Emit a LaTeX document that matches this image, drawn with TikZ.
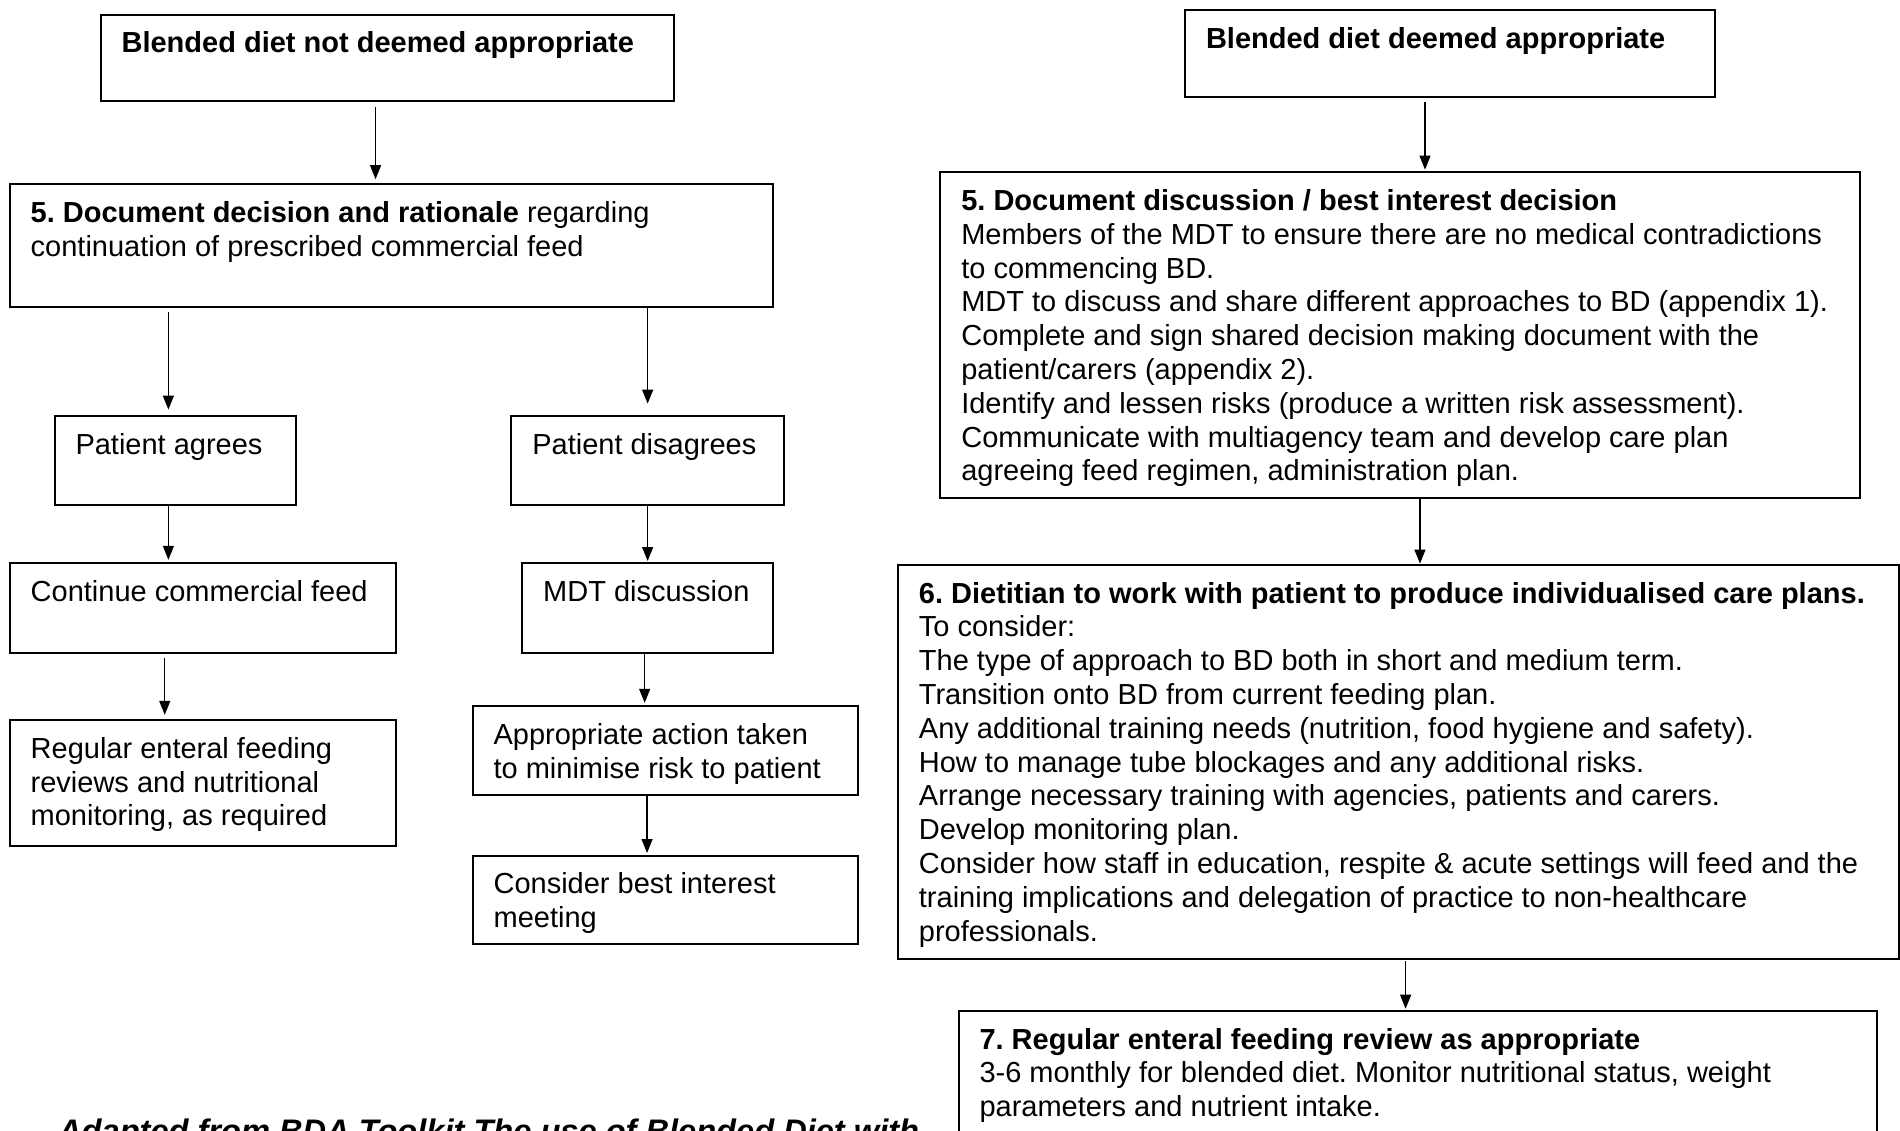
\documentclass[tikz,border=0pt]{standalone}
\usepackage{fontspec}
\setmainfont{Liberation Sans}
\usepackage{tikz}
\usetikzlibrary{arrows.meta,positioning}
\frenchspacing

\newcommand{\boxtext}[3]{\parbox[t][#2pt][t]{#1pt}{\raggedright\leftskip=21pt\vspace*{14.8pt}\strut #3}}

\begin{document}
\begin{tikzpicture}[
        x=1pt, y=-1pt,
        font=\fontsize{29}{33.8}\selectfont,
        box/.style={rectangle,draw,line width=2pt,anchor=north west,inner sep=0pt,outer sep=0pt},
        arrow/.style={-{Triangle[length=14pt,width=11pt]},line width=1.3pt}
    ]
        \useasboundingbox (0,0) rectangle (1900,1130);

        \node[box] (notok) at (100.6,14.5) {\boxtext{573.1}{86.1}{\textbf{Blended diet not deemed appropriate}}};
        \node[box] (decision) at (9.7,184.2) {\boxtext{763.4}{122.4}{\textbf{5. Document decision and rationale} regarding\\continuation of prescribed commercial feed}};
        \node[box] (agrees) at (54.5,415.6) {\boxtext{241.2}{89.7}{Patient agrees}};
        \node[box] (disagrees) at (511.3,415.6) {\boxtext{272.7}{89.7}{Patient disagrees}};
        \node[box] (continue) at (9.7,563.4) {\boxtext{386.5}{89.7}{Continue commercial feed}};
        \node[box] (mdt) at (522.2,563.4) {\boxtext{250.9}{89.7}{MDT discussion}};
        \node[box] (review) at (9.7,719.8) {\boxtext{386.5}{126}{Regular enteral feeding\\reviews and nutritional\\monitoring, as required}};
        \node[box] (action) at (472.6,706.4) {\boxtext{385.3}{88.5}{Appropriate action taken\\to minimise risk to patient}};
        \node[box] (meeting) at (472.6,855.5) {\boxtext{385.3}{88.4}{Consider best interest\\meeting}};

        \node[box] (ok) at (1185,9.7) {\boxtext{529.6}{87.2}{\textbf{Blended diet deemed appropriate}}};
        \node[box] (discuss) at (940.3,172.1) {\boxtext{919.7}{325.9}{\textbf{5. Document discussion / best interest decision}\\
            Members of the MDT to ensure there are no medical contradictions\\
            to commencing BD.\\
            MDT to discuss and share different approaches to BD (appendix 1).\\
            Complete and sign shared decision making document with the\\
            patient/carers (appendix 2).\\
            Identify and lessen risks (produce a written risk assessment).\\
            Communicate with multiagency team and develop care plan\\
            agreeing feed regimen, administration plan.}};
        \node[box] (dietitian) at (897.9,564.6) {\boxtext{1000.8}{393.9}{\textbf{6. Dietitian to work with patient to produce individualised care plans.}\\
            To consider:\\
            The type of approach to BD both in short and medium term.\\
            Transition onto BD from current feeding plan.\\
            Any additional training needs (nutrition, food hygiene and safety).\\
            How to manage tube blockages and any additional risks.\\
            Arrange necessary training with agencies, patients and carers.\\
            Develop monitoring plan.\\
            Consider how staff in education, respite \& acute settings will feed and the\\
            training implications and delegation of practice to non-healthcare\\
            professionals.}};
        \node[box] (regular) at (958.5,1010.7) {\boxtext{918.2}{250}{\textbf{7. Regular enteral feeding review as appropriate}\\
            3-6 monthly for blended diet. Monitor nutritional status, weight\\
            parameters and nutrient intake.}};

        \node[anchor=base west,inner sep=0pt,font=\fontsize{32.6}{38}\selectfont\bfseries\itshape] (credit) at (58,1142) {Adapted from BDA Toolkit The use of Blended Diet with};

        \draw[arrow] ([xshift=-11.6pt,yshift=-6pt]notok.south) -- ([xshift=-11.6pt,yshift=5pt]notok.south |- decision.north);
        \draw[arrow] ([xshift=-6.7pt,yshift=-5pt]agrees.north |- decision.south) -- ([xshift=-6.7pt,yshift=6pt]agrees.north);
        \draw[arrow] (disagrees.north |- decision.south) -- ([yshift=12pt]disagrees.north);
        \draw[arrow] ([xshift=-6.7pt]agrees.south) -- ([xshift=-6.7pt,yshift=3.6pt]agrees.south |- continue.north);
        \draw[arrow] (disagrees.south) -- ([yshift=2.4pt]disagrees.south |- mdt.north);
        \draw[arrow] ([xshift=-38.2pt,yshift=-5pt]continue.south) -- ([xshift=-38.2pt,yshift=5pt]continue.south |- review.north);
        \draw[arrow] ([xshift=-3pt]mdt.south) -- ([xshift=-3pt,yshift=3.6pt]mdt.south |- action.north);
        \draw[arrow] ([xshift=-18.2pt]action.south) -- ([xshift=-18.2pt,yshift=2.5pt]action.south |- meeting.north);

        \draw[arrow] ([xshift=-24.8pt,yshift=-5pt]ok.south) -- ([xshift=-24.8pt,yshift=2.5pt]ok.south |- discuss.north);
        \draw[arrow] ([xshift=19.8pt]discuss.south) -- ([xshift=19.8pt,yshift=1pt]discuss.south |- dietitian.north);
        \draw[arrow] ([xshift=7.3pt,yshift=-2.5pt]dietitian.south) -- ([xshift=7.3pt,yshift=2pt]dietitian.south |- regular.north);
\end{tikzpicture}
\end{document}
